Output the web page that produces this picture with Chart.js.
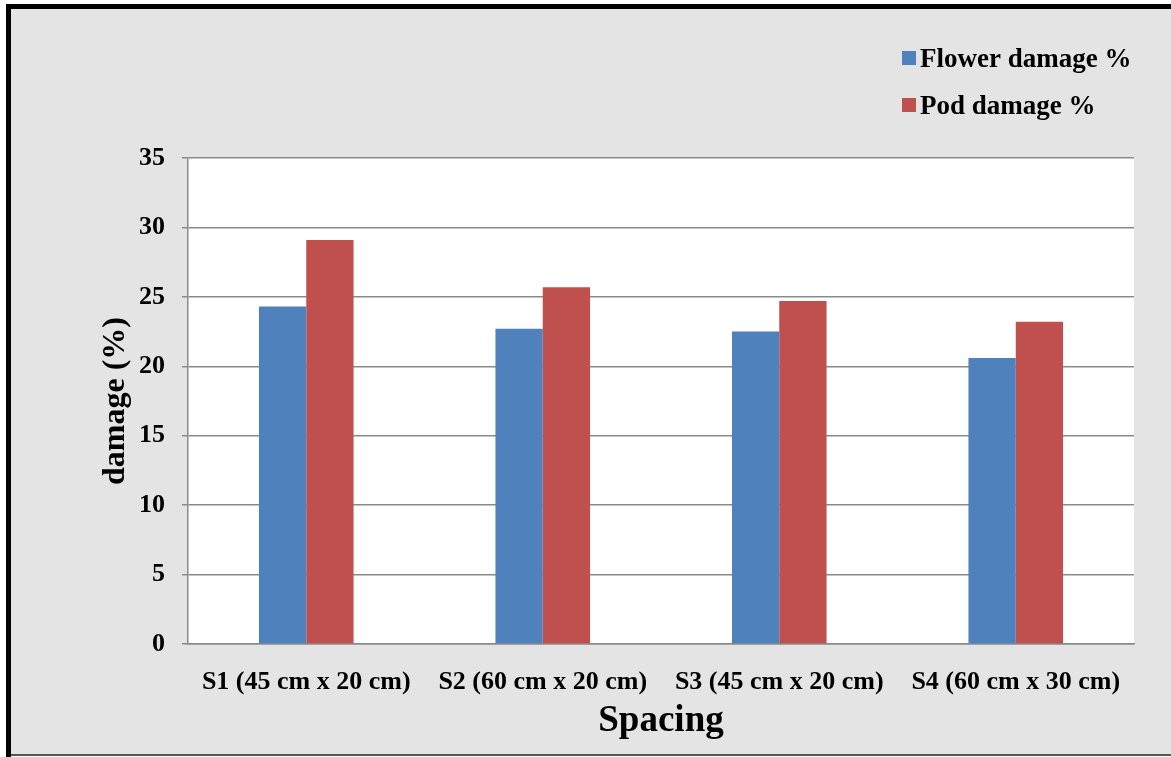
<!DOCTYPE html>
<html>
<head>
<meta charset="utf-8">
<script src="https://cdn.jsdelivr.net/npm/chart.js@4.4.1/dist/chart.umd.min.js"></script>
<style>
  html, body { margin: 0; padding: 0; background: #fff; }
  #wrap { width: 1171px; height: 757px; }
</style>
</head>
<body>
<div id="wrap"><canvas id="myChart" width="1171" height="757"></canvas></div>
<script>
var categories = ["S1 (45 cm x 20 cm)", "S2 (60 cm x 20 cm)", "S3 (45 cm x 20 cm)", "S4 (60 cm x 30 cm)"];
var flowerDamage = [24.3, 22.7, 22.5, 20.6];
var podDamage = [29.1, 25.7, 24.7, 23.2];
var seriesNames = ["Flower damage %", "Pod damage %"];
var barColors = ["#4F81BD", "#C0504D"];
var yTicks = [0, 5, 10, 15, 20, 25, 30, 35];

var serif = '"Liberation Serif", "Times New Roman", serif';

// background, frame and white plot area
var backdrop = {
  id: 'backdrop',
  beforeDraw: function (chart) {
    var ctx = chart.ctx, a = chart.chartArea;
    ctx.save();
    ctx.fillStyle = '#ffffff';
    ctx.fillRect(0, 0, chart.width, chart.height);
    ctx.fillStyle = '#e4e4e4';
    ctx.fillRect(11, 9, chart.width - 11, chart.height - 12);
    ctx.fillStyle = '#000000';
    ctx.fillRect(6, 4, 5, chart.height - 4);
    ctx.fillRect(6, 4, chart.width - 6, 5);
    ctx.fillStyle = '#555555';
    ctx.fillRect(11, 754, chart.width - 11, 2);
    ctx.fillStyle = '#ffffff';
    ctx.fillRect(a.left, a.top, a.right - a.left, a.bottom - a.top);
    ctx.restore();
  }
};

// legend stacked at top right
var sideLegend = {
  id: 'sideLegend',
  afterDraw: function (chart) {
    var ctx = chart.ctx;
    ctx.save();
    ctx.font = 'bold 27px ' + serif;
    ctx.textBaseline = 'middle';
    chart.data.datasets.forEach(function (ds, i) {
      var y = 58 + i * 47;
      ctx.fillStyle = ds.backgroundColor;
      ctx.fillRect(902, y - 7, 14, 14);
      ctx.fillStyle = '#000000';
      ctx.fillText(ds.label, 920, y + 2);
    });
    ctx.restore();
  }
};

new Chart("myChart", {
  type: "bar",
  data: {
    labels: categories,
    datasets: [{
      label: seriesNames[0],
      backgroundColor: barColors[0],
      data: flowerDamage
    }, {
      label: seriesNames[1],
      backgroundColor: barColors[1],
      data: podDamage
    }]
  },
  options: {
    responsive: false,
    animation: false,
    layout: { padding: { top: 158, right: 37, left: 0, bottom: 0 } },
    datasets: { bar: { categoryPercentage: 0.4, barPercentage: 1 } },
    plugins: {
      legend: { display: false },
      tooltip: { enabled: false }
    },
    scales: {
      x: {
        grid: { display: false },
        border: { display: true, color: '#8a8a8a', width: 1.5 },
        ticks: { color: '#000', padding: 15, font: { family: serif, size: 26, weight: 'bold' } },
        title: {
          display: true, text: 'Spacing', color: '#000',
          padding: { top: 0, bottom: 13 },
          font: { family: serif, size: 37, weight: 'bold' }
        },
        afterFit: function (scale) { scale.height = 757 - 644; }
      },
      y: {
        min: 0, max: 35,
        afterBuildTicks: function (scale) {
          scale.ticks = yTicks.map(function (v) { return { value: v }; });
        },
        grid: { color: '#8a8a8a', lineWidth: 1.5, tickLength: 6 },
        border: { display: true, color: '#8a8a8a', width: 1.5 },
        ticks: { color: '#000', padding: 17, font: { family: serif, size: 26, weight: 'bold' } },
        title: {
          display: true, text: 'damage (%)', color: '#000',
          padding: { top: 97, bottom: 0 },
          font: { family: serif, size: 32, weight: 'bold' }
        },
        afterFit: function (scale) { scale.width = 188; }
      }
    }
  },
  plugins: [backdrop, sideLegend]
});
</script>
</body>
</html>
